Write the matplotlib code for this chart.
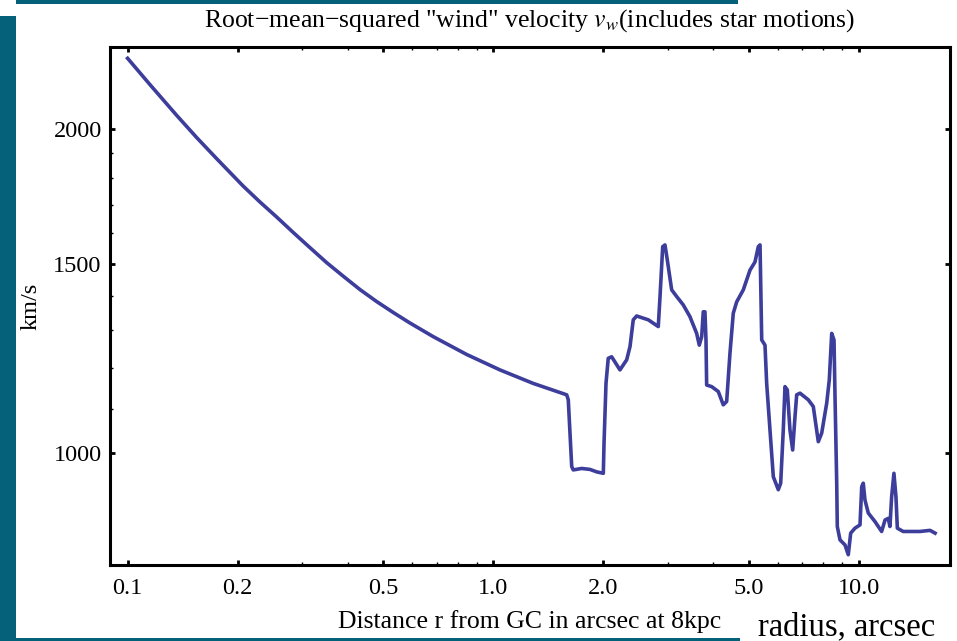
import matplotlib
matplotlib.use("Agg")
import matplotlib.pyplot as plt
from matplotlib.patches import Rectangle
from matplotlib.ticker import FixedLocator, NullFormatter

plt.rcParams['font.family'] = ['Liberation Serif', 'DejaVu Serif']
plt.rcParams['mathtext.fontset'] = 'stix'

# radius in arcsec, rms wind velocity in km/s
radius = [0.1, 0.1151, 0.1362, 0.1544, 0.1752, 0.2071, 0.2301, 0.2556, 0.2838, 0.3152,
          0.3502, 0.3888, 0.4319, 0.4798, 0.5328, 0.5918,
          0.6854, 0.846, 1.043, 1.286, 1.588, 1.604, 1.639, 1.655, 1.745, 1.839,
          1.918, 2.0, 2.009, 2.034, 2.063, 2.108, 2.221, 2.317, 2.366, 2.415,
          2.467, 2.655, 2.827, 2.858, 2.907, 2.949, 2.992, 3.076, 3.174, 3.309,
          3.451, 3.6, 3.66, 3.716, 3.753, 3.793, 3.818, 3.834, 3.957, 4.125,
          4.257, 4.349, 4.44, 4.534, 4.632, 4.829, 5.037, 5.198, 5.307, 5.365,
          5.373, 5.423, 5.536, 5.595, 5.713, 5.834, 6.02, 6.111, 6.212, 6.279,
          6.371, 6.479, 6.59, 6.687, 6.759, 6.902, 7.272, 7.504, 7.745, 7.912,
          8.166, 8.3, 8.427, 8.55, 8.604, 8.697, 8.729, 8.878, 9.162, 9.354,
          9.497, 9.757, 10.07, 10.18, 10.28, 10.39, 10.61, 11.07, 11.54, 11.79,
          12.03, 12.16, 12.29, 12.47, 12.63, 12.74, 13.22, 14.69, 15.65, 16.16]
velocity = [2326, 2199, 2059, 1964, 1877, 1770, 1711, 1657, 1603, 1552,
            1503, 1460, 1419, 1383, 1351, 1321,
            1283, 1235, 1195, 1161, 1133, 1121, 972, 965, 968, 966,
            961, 958, 1022, 1161, 1225, 1229, 1195, 1221, 1256, 1330,
            1341, 1330, 1311, 1397, 1555, 1561, 1512, 1418, 1398, 1373,
            1339, 1292, 1260, 1283, 1353, 1353, 1274, 1157, 1153, 1141,
            1109, 1117, 1238, 1349, 1382, 1418, 1479, 1505, 1555, 1561,
            1522, 1274, 1260, 1161, 1051, 951, 925, 938, 1051, 1153,
            1145, 1051, 1007, 1081, 1133, 1137, 1121, 1105, 1025, 1044,
            1113, 1170, 1292, 1274, 1129, 938, 855, 831, 822, 805,
            843, 852, 858, 931, 938, 905, 880, 864, 846, 867,
            870, 855, 911, 958, 911, 852, 846, 846, 848, 843]

xticks = [0.1, 0.2, 0.5, 1.0, 2.0, 5.0, 10.0]
xtick_labels = ['0.1', '0.2', '0.5', '1.0', '2.0', '5.0', '10.0']
xminor = [0.3, 0.4, 0.6, 0.7, 0.8, 0.9, 3, 4, 6, 7, 8, 9]
yticks = [1000, 1500, 2000]
yminor = [1100, 1200, 1300, 1400, 1600, 1700, 1800, 1900]

teal = '#05607a'

fig = plt.figure(figsize=(9.57, 6.41), dpi=100)
fig.patch.set_facecolor('white')

# slide frame
fig.add_artist(Rectangle((0, 0), 16 / 957, 625 / 641, transform=fig.transFigure,
                         facecolor=teal, edgecolor='none'))
fig.add_artist(Rectangle((16 / 957, 637 / 641), 722 / 957, 4 / 641, transform=fig.transFigure,
                         facecolor=teal, edgecolor='none'))
fig.add_artist(Rectangle((0, 0), 740 / 957, 3 / 641, transform=fig.transFigure,
                         facecolor=teal, edgecolor='none'))

ax = fig.add_axes([110 / 957, 76 / 641, 840 / 957, 518 / 641])
ax.plot(radius, velocity, color='#3d3d9c', lw=2.6, solid_joinstyle='round')

ax.set_xscale('log')
ax.set_yscale('log')
ax.set_xlim(0.0895, 17.75)
ax.set_ylim(787.5, 2383)

ax.xaxis.set_major_locator(FixedLocator(xticks))
ax.set_xticklabels(xtick_labels)
ax.xaxis.set_minor_locator(FixedLocator(xminor))
ax.xaxis.set_minor_formatter(NullFormatter())
ax.yaxis.set_major_locator(FixedLocator(yticks))
ax.set_yticklabels([str(t) for t in yticks])
ax.yaxis.set_minor_locator(FixedLocator(yminor))
ax.yaxis.set_minor_formatter(NullFormatter())

for s in ax.spines.values():
    s.set_linewidth(2.2)
ax.tick_params(which='major', direction='in', length=3.5, width=2, labelsize=17.5,
               top=True, right=True)
ax.tick_params(axis='x', which='major', pad=9)
ax.tick_params(axis='y', which='major', pad=6)
ax.tick_params(which='minor', direction='in', length=2, width=1, top=True, right=False)

ax.set_title('Root\u2212mean\u2212squared "wind" velocity $v_w$(includes star motions)',
             fontsize=18.5, pad=15)
ax.set_xlabel('Distance r from GC in arcsec at 8kpc', fontsize=18.5, va='center')
ax.xaxis.set_label_coords(0.5, -0.110)
ax.set_ylabel('km/s', fontsize=17.5, va='center')
ax.yaxis.set_label_coords(-0.094, 0.5)

fig.text(847 / 957, 1 - 627 / 641, 'radius, arcsec', fontsize=23.5, ha='center', va='center')

fig.savefig('out.png', dpi=100)
